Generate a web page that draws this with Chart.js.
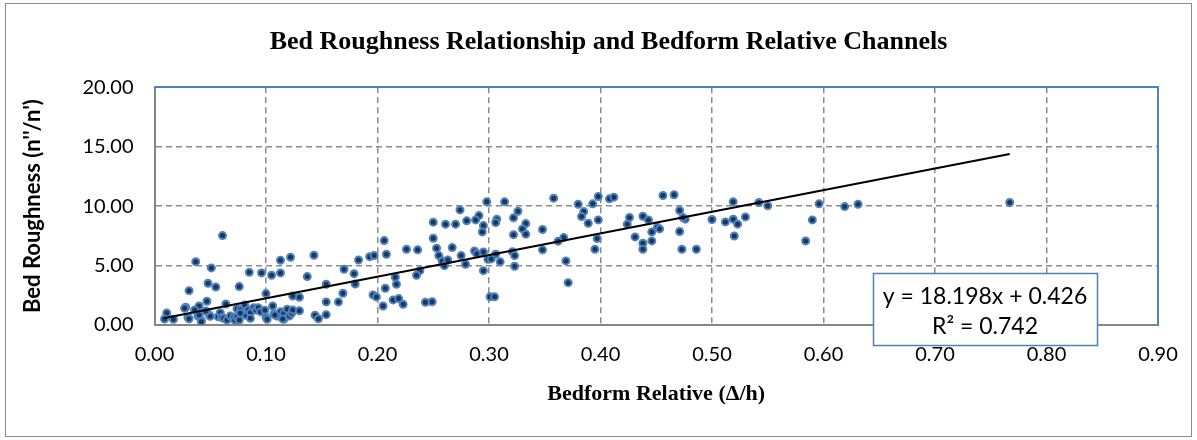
<!DOCTYPE html>
<html>
<head>
<meta charset="utf-8">
<title>Bed Roughness Relationship and Bedform Relative Channels</title>
<script src="https://cdn.jsdelivr.net/npm/chart.js@4/dist/chart.umd.min.js"></script>
<style>
  html, body { margin: 0; padding: 0; background: #fff; }
  canvas { display: block; }
</style>
</head>
<body>
<canvas id="chart" width="1197" height="440"></canvas>
<script>
// bedform relative (Δ/h)
const bedformRelative = [
  0.061, 0.037, 0.051, 0.085, 0.096, 0.105, 0.048, 0.055, 0.076, 0.031,
  0.100, 0.047, 0.028, 0.040, 0.011, 0.009, 0.017, 0.064,
  0.030, 0.031, 0.039, 0.042, 0.049, 0.050, 0.057, 0.059, 0.060, 0.062,
  0.065, 0.068, 0.071, 0.072, 0.074, 0.076, 0.074, 0.077, 0.081, 0.082,
  0.084, 0.086, 0.089, 0.091, 0.093, 0.095, 0.099, 0.100, 0.101, 0.106,
  0.107, 0.110, 0.113, 0.116, 0.116, 0.119, 0.121, 0.123, 0.124, 0.086,
  0.077, 0.046, 0.027, 0.040, 0.042, 0.036,
  0.206, 0.208, 0.193, 0.197, 0.183, 0.143, 0.122, 0.113, 0.113, 0.137,
  0.170, 0.179, 0.180, 0.154, 0.207, 0.214, 0.169, 0.196, 0.199, 0.205,
  0.165, 0.154, 0.154, 0.144, 0.147, 0.130, 0.130, 0.124, 0.115, 0.108,
  0.298, 0.314, 0.274, 0.326, 0.291, 0.288, 0.280, 0.307, 0.306, 0.322,
  0.333, 0.295, 0.294, 0.250, 0.261, 0.270, 0.330, 0.333, 0.322, 0.250,
  0.226, 0.236, 0.253, 0.267, 0.255, 0.275, 0.287, 0.289, 0.295, 0.306,
  0.299, 0.302, 0.310, 0.321, 0.323, 0.323, 0.258, 0.263, 0.260, 0.279,
  0.295, 0.238, 0.235, 0.216, 0.217, 0.219, 0.223, 0.243, 0.249, 0.301,
  0.305,
  0.358, 0.398, 0.408, 0.412, 0.456, 0.466, 0.380, 0.393, 0.385, 0.383,
  0.389, 0.398, 0.426, 0.438, 0.443, 0.424, 0.348, 0.367, 0.362, 0.397,
  0.431, 0.451, 0.453, 0.446, 0.438, 0.438, 0.446, 0.471, 0.471, 0.348,
  0.395, 0.369, 0.371,
  0.476, 0.474, 0.500, 0.519, 0.512, 0.519, 0.523, 0.530, 0.520, 0.542,
  0.550, 0.473, 0.486, 0.584, 0.590, 0.596, 0.619, 0.631, 0.767
];

// bed roughness (n''/n'), same order
const bedRoughness = [
  7.52, 5.33, 4.80, 4.43, 4.38, 4.18, 3.51, 3.20, 3.23, 2.89,
  2.64, 2.00, 1.49, 1.60, 1.01, 0.50, 0.48, 1.77,
  0.65, 0.53, 0.76, 0.39, 0.87, 0.73, 0.70, 1.04, 0.65, 0.56,
  0.42, 0.76, 0.65, 0.42, 0.65, 0.42, 1.37, 1.26, 1.68, 0.81,
  1.26, 1.04, 1.46, 1.26, 1.46, 1.12, 1.24, 0.65, 0.48, 1.60,
  0.93, 0.76, 1.12, 0.99, 0.48, 1.32, 0.76, 0.99, 1.26, 0.56,
  0.99, 1.18, 1.40, 0.84, 0.28, 1.26,
  7.10, 5.95, 5.75, 5.84, 5.47, 5.87, 5.70, 5.45, 4.38, 4.07,
  4.69, 4.32, 3.45, 3.43, 3.09, 2.11, 2.67, 2.53, 2.36, 1.60,
  1.94, 1.94, 0.87, 0.82, 0.53, 1.20, 2.33, 2.44, 0.51, 0.84,
  10.36, 10.36, 9.68, 9.57, 9.20, 8.84, 8.76, 8.90, 8.62, 9.01,
  8.53, 8.36, 7.83, 8.65, 8.48, 8.48, 8.08, 7.64, 7.60, 7.30,
  6.37, 6.32, 6.46, 6.51, 5.84, 5.84, 6.23, 6.00, 6.15, 5.95,
  5.53, 5.56, 5.31, 6.17, 5.84, 4.94, 5.39, 5.47, 4.99, 5.11,
  4.57, 4.57, 4.18, 4.02, 3.43, 2.22, 1.74, 1.91, 1.96, 2.38,
  2.38,
  10.67, 10.81, 10.61, 10.75, 10.89, 10.95, 10.16, 10.19, 9.54, 9.12,
  8.56, 8.84, 9.04, 9.15, 8.84, 8.48, 8.03, 7.35, 7.05, 7.27,
  7.41, 8.23, 8.08, 7.83, 6.88, 6.37, 7.07, 7.86, 9.63, 6.32,
  6.37, 5.39, 3.56,
  8.90, 9.04, 8.87, 10.36, 8.67, 8.90, 8.48, 9.09, 7.49, 10.30,
  10.02, 6.37, 6.37, 7.07, 8.84, 10.19, 9.96, 10.16, 10.30
];

// linear trendline as printed on the chart
const trendSlope = 18.198;
const trendIntercept = 0.426;
const trendLabel = ["y = 18.198x + 0.426", "R\u00B2 = 0.742"];

const xTickLabels = ["0.00", "0.10", "0.20", "0.30", "0.40", "0.50", "0.60", "0.70", "0.80", "0.90"];
const yTickLabels = ["0.00", "5.00", "10.00", "15.00", "20.00"];

const points = bedformRelative.map((x, i) => ({ x: x, y: bedRoughness[i] }));
const xMin = Math.min(...bedformRelative);
const xMax = Math.max(...bedformRelative);
const trend = [
  { x: xMin, y: trendSlope * xMin + trendIntercept },
  { x: xMax, y: trendSlope * xMax + trendIntercept }
];

const gridGray = "#8c8c8c";
const axisGray = "#868686";
const plotBlue = "#4f81bd";

// outer frame + equation box
const extras = {
  id: "extras",
  afterDraw(chart) {
    const ctx = chart.ctx;
    ctx.save();
    ctx.strokeStyle = "#8a8a8a";
    ctx.lineWidth = 1;
    ctx.strokeRect(5.5, 3.5, 1186, 433);

    ctx.fillStyle = "#fff";
    ctx.fillRect(873, 273, 225, 73);
    ctx.strokeStyle = plotBlue;
    ctx.lineWidth = 1.5;
    ctx.strokeRect(873.5, 273.5, 224, 72);

    ctx.fillStyle = "#000";
    ctx.font = "23px Lato";
    ctx.textAlign = "center";
    ctx.textBaseline = "middle";
    ctx.fillText(trendLabel[0], 985, 297);
    ctx.fillText(trendLabel[1], 985, 327);
    ctx.restore();
  }
};

new Chart(document.getElementById("chart"), {
  type: "scatter",
  data: {
    datasets: [
      {
        type: "line",
        data: trend,
        borderColor: "#000",
        borderWidth: 2,
        pointRadius: 0,
        fill: false,
        order: 0
      },
      {
        data: points,
        pointRadius: 3.5,
        pointBackgroundColor: "#17375e",
        pointBorderColor: plotBlue,
        pointBorderWidth: 2,
        order: 1
      }
    ]
  },
  options: {
    responsive: false,
    animation: false,
    devicePixelRatio: 1,
    layout: { padding: { left: 20, right: 0, top: 0, bottom: 0 } },
    plugins: {
      legend: { display: false },
      tooltip: { enabled: false },
      title: {
        display: true,
        text: "Bed Roughness Relationship and Bedform Relative Channels",
        color: "#000",
        font: { family: "Liberation Serif", size: 26, weight: "bold" },
        padding: { top: 27, bottom: 29 }
      }
    },
    scales: {
      x: {
        type: "linear",
        position: "bottom",
        min: 0,
        max: 0.9,
        afterFit: s => { s.height = 115; },
        ticks: {
          stepSize: 0.1,
          color: "#000",
          padding: 18,
          font: { family: "Lato", size: 20 },
          callback: (v, i) => xTickLabels[i]
        },
        grid: {
          drawTicks: false,
          color: c => (c.tick && c.tick.value > 0 && c.tick.value < 0.89) ? gridGray : "transparent",
          lineWidth: 1.5
        },
        border: { display: true, color: axisGray, width: 2, dash: [6, 4] },
        title: {
          display: true,
          text: "Bedform Relative (\u0394/h)",
          color: "#000",
          font: { family: "Liberation Serif", size: 22, weight: "bold" },
          padding: { top: 0, bottom: 32 }
        }
      },
      y: {
        type: "linear",
        position: "left",
        min: 0,
        max: 20,
        afterFit: s => { s.width = 134.5; },
        ticks: {
          stepSize: 5,
          color: "#000",
          padding: 21,
          font: { family: "Lato", size: 20 },
          callback: (v, i) => yTickLabels[i]
        },
        grid: {
          drawTicks: false,
          color: c => (c.tick && c.tick.value > 0 && c.tick.value < 20) ? gridGray : "transparent",
          lineWidth: 1.5
        },
        border: { display: true, color: axisGray, width: 2, dash: [6, 4] },
        title: {
          display: true,
          text: "Bed Roughness (n''/n')",
          color: "#000",
          font: { family: "Lato", size: 22, weight: "bold" },
          padding: { top: 0, bottom: 0 }
        }
      },
      // plot-area frame on the top and right side
      xTop: {
        type: "linear",
        position: "top",
        afterFit: s => { s.height = 0; },
        ticks: { display: false },
        grid: { display: false, drawTicks: false },
        border: { display: true, color: plotBlue, width: 2 }
      },
      yRight: {
        type: "linear",
        position: "right",
        afterFit: s => { s.width = 39; },
        ticks: { display: false },
        grid: { display: false, drawTicks: false },
        border: { display: true, color: plotBlue, width: 2 }
      }
    }
  },
  plugins: [extras]
});
</script>
</body>
</html>
